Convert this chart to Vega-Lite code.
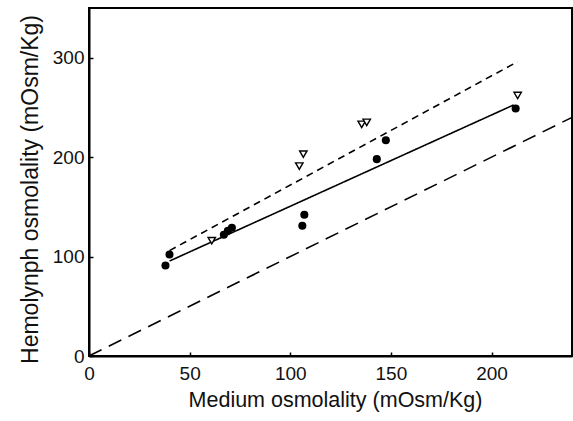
{
  "$schema": "https://vega.github.io/schema/vega-lite/v6.json",
  "width": 483,
  "height": 348,
  "autosize": {"type": "none"},
  "padding": {"left": 89, "top": 8, "right": 1, "bottom": 65},
  "background": "white",
  "config": {
    "view": {"stroke": "black", "strokeWidth": 2},
    "axis": {
      "grid": false,
      "domainColor": "black",
      "domainWidth": 2,
      "tickColor": "black",
      "tickWidth": 1.5,
      "tickSize": -4,
      "labelFlush": false,
      "labelFont": "Liberation Sans",
      "labelFontSize": 19,
      "labelColor": "#111",
      "titleFont": "Liberation Sans",
      "titleFontWeight": "normal",
      "titleColor": "#111"
    }
  },
  "datasets": {
    "circles": [
      {"medium": 38, "hemolymph": 91},
      {"medium": 40, "hemolymph": 102},
      {"medium": 67, "hemolymph": 122},
      {"medium": 69, "hemolymph": 126},
      {"medium": 71, "hemolymph": 129},
      {"medium": 106, "hemolymph": 131},
      {"medium": 107, "hemolymph": 142},
      {"medium": 143, "hemolymph": 198},
      {"medium": 147.5, "hemolymph": 217},
      {"medium": 212, "hemolymph": 249}
    ],
    "triangles": [
      {"medium": 61, "hemolymph": 116},
      {"medium": 104.5, "hemolymph": 191},
      {"medium": 106.5, "hemolymph": 203},
      {"medium": 135.5, "hemolymph": 233},
      {"medium": 138, "hemolymph": 235},
      {"medium": 213, "hemolymph": 262}
    ],
    "lines": [
      {"line": "isosmotic", "medium": 0, "hemolymph": 0},
      {"line": "isosmotic", "medium": 240, "hemolymph": 240},
      {"line": "circles fit", "medium": 40, "hemolymph": 95.5},
      {"line": "circles fit", "medium": 211, "hemolymph": 252.5},
      {"line": "triangles fit", "medium": 40, "hemolymph": 106},
      {"line": "triangles fit", "medium": 213, "hemolymph": 296}
    ]
  },
  "layer": [
    {
      "data": {"name": "lines"},
      "mark": {"type": "line", "color": "black", "strokeWidth": 1.6, "clip": true},
      "encoding": {
        "x": {"field": "medium", "type": "quantitative", "scale": {"domain": [0, 240], "nice": false}, "axis": {"values": [0, 50, 100, 150, 200], "title": "Medium osmolality (mOsm/Kg)", "titleFontSize": 21.5, "labelPadding": 12, "titlePadding": 6, "titleX": 246}},
        "y": {"field": "hemolymph", "type": "quantitative", "scale": {"domain": [0, 350], "nice": false}, "axis": {"values": [0, 100, 200, 300], "title": "Hemolynph osmolality (mOsm/Kg)", "titleFontSize": 23, "labelPadding": 9, "titlePadding": 10, "titleY": 181}},
        "detail": {"field": "line"},
        "strokeDash": {"field": "line", "type": "nominal", "legend": null, "scale": {"domain": ["isosmotic", "circles fit", "triangles fit"], "range": [[14, 8], [1, 0], [7, 5]]}}
      }
    },
    {
      "data": {"name": "circles"},
      "mark": {"type": "point", "shape": "circle", "filled": true, "color": "black", "size": 65, "opacity": 1},
      "encoding": {
        "x": {"field": "medium", "type": "quantitative"},
        "y": {"field": "hemolymph", "type": "quantitative"}
      }
    },
    {
      "data": {"name": "triangles"},
      "mark": {"type": "point", "shape": "triangle-down", "filled": false, "color": "black", "fill": "white", "fillOpacity": 1, "size": 55, "strokeWidth": 1.4, "opacity": 1},
      "encoding": {
        "x": {"field": "medium", "type": "quantitative"},
        "y": {"field": "hemolymph", "type": "quantitative"}
      }
    }
  ]
}
